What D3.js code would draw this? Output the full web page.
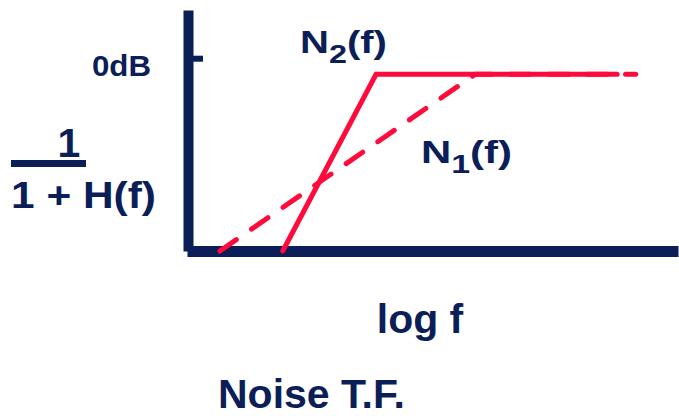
<!DOCTYPE html>
<html>
<head>
<meta charset="utf-8">
<script src="https://cdn.jsdelivr.net/npm/d3@7"></script>
<style>
  html, body { margin: 0; padding: 0; background: #ffffff; }
  svg { display: block; }
  text { font-family: "Liberation Sans", Arial, Helvetica, sans-serif; font-weight: bold; }
</style>
</head>
<body>
<svg id="chart" width="679" height="416"></svg>
<script>
// Asymptotic noise transfer functions, 1 / (1 + H(f)), on a log-frequency axis.
// x values are in decades of log f, y values in dB.
const n1LogF = [0.65, 5.85, 9.12];   // N1(f): gentle slope, dashed
const n1Db   = [-36, -3, -3];
const n2LogF = [1.93, 3.83, 8.74];   // N2(f): steep slope, solid
const n2Db   = [-36, -3, -3];
const yTicks = [0];
const yTickLabels = ["0dB"];

const navy = "#0b1e58";
const red = "#ff0a3a";

const svg = d3.select("#chart");

const x = d3.scaleLinear().domain([0, 10]).range([188, 679]);
const y = d3.scaleLinear().domain([-36, 9]).range([251, 10]);

// Axes: heavy bars, a single 0 dB tick drawn to the right of the vertical bar.
const yAxis = d3.axisLeft(y)
  .tickValues(yTicks)
  .tickFormat((d, i) => yTickLabels[i])
  .tickSizeInner(-15)
  .tickSizeOuter(0)
  .tickPadding(37);

const gy = svg.append("g").attr("transform", "translate(188,0)").call(yAxis);
gy.select(".domain").attr("stroke", navy).attr("stroke-width", 10);
gy.selectAll(".tick line").attr("stroke", navy).attr("stroke-width", 6);
gy.selectAll(".tick text")
  .attr("fill", navy)
  .attr("font-size", 29)
  .attr("font-family", null)
  .attr("dy", "0.58em")
  .attr("textLength", 59)
  .attr("lengthAdjust", "spacingAndGlyphs");

const xAxis = d3.axisBottom(x).tickValues([]).tickSizeOuter(0);
const gx = svg.append("g").attr("transform", "translate(-1,251)").call(xAxis);
gx.select(".domain").attr("stroke", navy).attr("stroke-width", 11);

// Response curves
const line = d3.line().x(d => x(d[0])).y(d => y(d[1]));
const n2 = n2LogF.map((v, i) => [v, n2Db[i]]);
const n1 = n1LogF.map((v, i) => [v, n1Db[i]]);

svg.append("path")
  .attr("d", line(n2))
  .attr("fill", "none")
  .attr("stroke", red)
  .attr("stroke-width", 5)
  .attr("stroke-linecap", "round")
  .attr("stroke-linejoin", "miter");

svg.append("path")
  .attr("d", line(n1))
  .attr("fill", "none")
  .attr("stroke", red)
  .attr("stroke-width", 5)
  .attr("stroke-linecap", "round")
  .attr("stroke-dasharray", "20,18.4");

// Curve labels
function subLabel(xPos, yPos, main, sub, len) {
  const t = svg.append("text")
    .attr("x", xPos).attr("y", yPos)
    .attr("fill", navy)
    .attr("font-size", 31)
    .attr("textLength", len)
    .attr("lengthAdjust", "spacingAndGlyphs");
  t.append("tspan").text(main);
  t.append("tspan").attr("dy", 10).attr("font-size", 25).text(sub);
  t.append("tspan").attr("dy", -10).text("(f)");
}
subLabel(300, 53, "N", "2", 87);
subLabel(421, 163, "N", "1", 91);

// Vertical axis title: 1 / (1 + H(f))
svg.append("text")
  .attr("x", 69).attr("y", 157)
  .attr("text-anchor", "middle")
  .attr("fill", navy)
  .attr("font-size", 41)
  .text("1");
svg.append("line")
  .attr("x1", 11).attr("x2", 86)
  .attr("y1", 163.5).attr("y2", 163.5)
  .attr("stroke", navy)
  .attr("stroke-width", 7);
svg.append("text")
  .attr("x", 11).attr("y", 208)
  .attr("fill", navy)
  .attr("font-size", 37)
  .attr("textLength", 145)
  .attr("lengthAdjust", "spacingAndGlyphs")
  .text("1 + H(f)");

// Horizontal axis title and caption
svg.append("text")
  .attr("x", 420).attr("y", 333)
  .attr("text-anchor", "middle")
  .attr("fill", navy)
  .attr("font-size", 41)
  .text("log f");

svg.append("text")
  .attr("x", 218).attr("y", 408)
  .attr("fill", navy)
  .attr("font-size", 41)
  .text("Noise T.F.");
</script>
</body>
</html>
